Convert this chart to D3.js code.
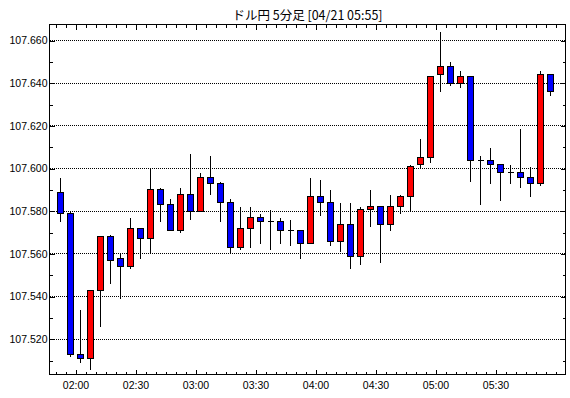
<!DOCTYPE html>
<html><head><meta charset="utf-8">
<script src="https://cdn.jsdelivr.net/npm/d3@7"></script>
<style>
html,body{margin:0;padding:0;background:#fff;}
svg{display:block;}
.ax text{font-family:"Liberation Sans",Arial,sans-serif;font-size:10.5px;fill:#000;}
.ax path{display:none;}
.ax line{stroke:#000;}
</style></head>
<body>
<svg id="c" width="570" height="398"></svg>
<script>
const title = "ドル円 5分足 [04/21 05:55]";
const times = ["01:50","01:55","02:00","02:05","02:10","02:15","02:20","02:25","02:30","02:35",
  "02:40","02:45","02:50","02:55","03:00","03:05","03:10","03:15","03:20","03:25",
  "03:30","03:35","03:40","03:45","03:50","03:55","04:00","04:05","04:10","04:15",
  "04:20","04:25","04:30","04:35","04:40","04:45","04:50","04:55","05:00","05:05",
  "05:10","05:15","05:20","05:25","05:30","05:35","05:40","05:45","05:50","05:55"];
const open = [107.589,107.579,107.513,107.511,107.543,107.568,107.558,107.554,107.572,107.567,
  107.590,107.583,107.571,107.588,107.580,107.596,107.593,107.584,107.563,107.572,
  107.577,107.575,107.575,107.571,107.571,107.565,107.587,107.584,107.566,107.574,
  107.559,107.581,107.582,107.574,107.582,107.587,107.602,107.605,107.644,107.648,
  107.640,107.643,107.604,107.604,107.602,107.598,107.598,107.596,107.593,107.644];
const high = [107.596,107.580,107.534,107.543,107.568,107.569,107.560,107.577,107.572,107.600,
  107.591,107.586,107.591,107.607,107.598,107.606,107.594,107.586,107.582,107.582,
  107.579,107.581,107.577,107.576,107.571,107.596,107.595,107.590,107.584,107.584,
  107.582,107.590,107.582,107.588,107.588,107.602,107.614,107.643,107.664,107.650,
  107.646,107.643,107.606,107.610,107.602,107.602,107.619,107.601,107.646,107.644];
const low = [107.575,107.512,107.509,107.506,107.526,107.546,107.539,107.553,107.558,107.560,
  107.575,107.571,107.570,107.576,107.580,107.588,107.575,107.560,107.562,107.563,
  107.565,107.562,107.565,107.564,107.558,107.565,107.578,107.564,107.561,107.553,
  107.555,107.573,107.556,107.571,107.579,107.580,107.600,107.603,107.636,107.639,
  107.638,107.594,107.583,107.593,107.585,107.593,107.591,107.587,107.592,107.634];
const close = [107.579,107.513,107.511,107.543,107.568,107.557,107.554,107.572,107.567,107.590,
  107.583,107.571,107.588,107.580,107.596,107.593,107.584,107.563,107.572,107.577,
  107.575,107.575,107.571,107.571,107.565,107.587,107.584,107.566,107.574,107.559,
  107.581,107.582,107.574,107.582,107.587,107.601,107.605,107.643,107.648,107.640,
  107.643,107.604,107.604,107.602,107.598,107.598,107.596,107.593,107.644,107.636];
const xLabels = ["02:00","02:30","03:00","03:30","04:00","04:30","05:00","05:30"];
const yLabels = [107.520,107.540,107.560,107.580,107.600,107.620,107.640,107.660];

const parse = d3.timeParse("%H:%M");
const data = times.map((t,i)=>({t:parse(t),o:open[i],h:high[i],l:low[i],c:close[i]}));

const L=49.5, R=565.5, T=24.5, B=374.5;
const x = d3.scaleTime().domain([parse("01:47"), parse("06:05")]).range([L, R]);
const y = d3.scaleLinear().domain([107.5035, 107.6675]).range([B, T]);
const svg = d3.select("#c");
const snap = v => Math.round(v - 0.5) + 0.5;

// title
svg.append("text").attr("x", (L+R)/2).attr("y", 19.5).attr("text-anchor","middle")
  .style("font-family",'"Noto Sans CJK JP",sans-serif').style("font-size","12.5px").text(title);

// gridlines
svg.append("g").selectAll("line").data(yLabels).join("line")
  .attr("x1", L).attr("x2", R)
  .attr("y1", d=>snap(y(d))).attr("y2", d=>snap(y(d)))
  .attr("stroke","#000").attr("stroke-dasharray","1,1").attr("shape-rendering","crispEdges");

// minor ticks every 5 min / 0.010
const minorT = d3.timeMinute.every(5).range(parse("01:50"), parse("06:05"));
const majorT = xLabels.map(parse);
const minorY = d3.range(8*2+1).map(i=>+(107.510+i*0.010).toFixed(3)).filter(v=>v<107.667);

function mk(g, axis){ g.attr("class","ax").attr("shape-rendering","crispEdges").call(axis); }
mk(svg.append("g").attr("transform",`translate(0,${B})`), d3.axisBottom(x).tickValues(minorT).tickSize(-3).tickFormat(""));
mk(svg.append("g").attr("transform",`translate(0,${B})`), d3.axisBottom(x).tickValues(majorT).tickSize(-5).tickPadding(7).tickFormat(d3.timeFormat("%H:%M")));
mk(svg.append("g").attr("transform",`translate(0,${T})`), d3.axisTop(x).tickValues(minorT).tickSize(-3).tickFormat(""));
mk(svg.append("g").attr("transform",`translate(0,${T})`), d3.axisTop(x).tickValues(majorT).tickSize(-5).tickFormat(""));
mk(svg.append("g").attr("transform",`translate(${L},0)`), d3.axisLeft(y).tickValues(minorY).tickSize(-3).tickFormat(""));
mk(svg.append("g").attr("transform",`translate(${L},0)`), d3.axisLeft(y).tickValues(yLabels).tickSize(-5).tickPadding(2).tickFormat(d3.format(".3f")));
mk(svg.append("g").attr("transform",`translate(${R},0)`), d3.axisRight(y).tickValues(minorY).tickSize(-3).tickFormat(""));
mk(svg.append("g").attr("transform",`translate(${R},0)`), d3.axisRight(y).tickValues(yLabels).tickSize(-5).tickFormat(""));

// candles
const cg = svg.append("g").attr("shape-rendering","crispEdges");
const cx = d => Math.floor(x(d3.timeSecond.offset(d.t,150))) + 0.5;
cg.selectAll("line.w").data(data).join("line").attr("class","w")
  .attr("x1",cx).attr("x2",cx)
  .attr("y1",d=>snap(y(d.h))).attr("y2",d=>snap(y(d.l)))
  .attr("stroke","#000");
const bodies = data.filter(d=>Math.abs(snap(y(d.o))-snap(y(d.c)))>=1);
const dojis = data.filter(d=>Math.abs(snap(y(d.o))-snap(y(d.c)))<1);
cg.selectAll("rect").data(bodies).join("rect")
  .attr("x",d=>cx(d)-3).attr("width",6)
  .attr("y",d=>snap(y(Math.max(d.o,d.c))))
  .attr("height",d=>snap(y(Math.min(d.o,d.c)))-snap(y(Math.max(d.o,d.c))))
  .attr("fill",d=>d.c>=d.o?"#ff0000":"#0000ff").attr("stroke","#000");
cg.selectAll("line.dj").data(dojis).join("line").attr("class","dj")
  .attr("x1",d=>cx(d)-3).attr("x2",d=>cx(d)+3)
  .attr("y1",d=>snap(y(d.o))).attr("y2",d=>snap(y(d.o)))
  .attr("stroke","#000");

// border
svg.append("rect").attr("x",L).attr("y",T).attr("width",R-L).attr("height",B-T)
  .attr("fill","none").attr("stroke","#000").attr("shape-rendering","crispEdges");
</script>
</body></html>
